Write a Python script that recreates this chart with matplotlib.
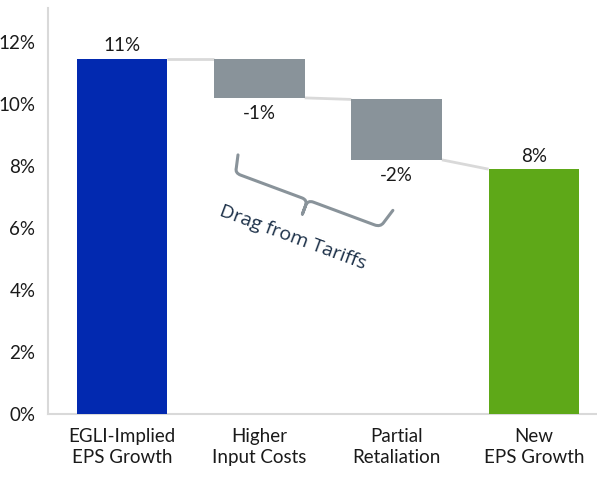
import numpy as np
import matplotlib
matplotlib.use("Agg")
import matplotlib.pyplot as plt
from matplotlib.path import Path
from matplotlib.patches import PathPatch

# data (in %)
categories = ["EGLI-Implied\nEPS Growth", "Higher\nInput Costs", "Partial\nRetaliation", "New\nEPS Growth"]
bar_tops = [11.45, 11.45, 10.15, 7.9]
bar_bottoms = [0.0, 10.2, 8.2, 0.0]
value_labels = ["11%", "-1%", "-2%", "8%"]
yticks = [0, 2, 4, 6, 8, 10, 12]

colors = ["#0229b0", "#89939a", "#89939a", "#5ea818"]
text_col = "#1a1a1a"

plt.rcParams['font.family'] = ['Lato', 'DejaVu Sans']

fig = plt.figure(figsize=(5.97, 4.79), dpi=100)
ax = fig.add_axes([48/597, 1 - 414/479, 1 - 48/597, (414 - 8)/479])

x = np.arange(len(categories))
w = 0.66
heights = [t - b for t, b in zip(bar_tops, bar_bottoms)]
ax.bar(x, heights, bottom=bar_bottoms, width=w, color=colors, zorder=3)

# connectors between bars
for i in range(len(x) - 1):
    y0 = bar_tops[i] if i == 0 else bar_bottoms[i]
    y1 = bar_tops[i + 1]
    ax.plot([x[i] + w/2, x[i + 1] - w/2], [y0, y1], color="#d9d9d9", lw=2, zorder=2,
            solid_capstyle="butt")

# value labels
for i in range(len(x)):
    if bar_bottoms[i] == 0:
        ax.text(x[i], bar_tops[i] + 0.15, value_labels[i], ha="center", va="bottom",
                fontsize=13.5, color=text_col)
    else:
        ax.text(x[i], bar_bottoms[i] - 0.22, value_labels[i], ha="center", va="top",
                fontsize=13.5, color=text_col)

ax.set_xlim(-0.54, 3.46)
ax.set_ylim(0, 13.1)
ax.set_yticks(yticks)
ax.set_yticklabels([f"{v}%" for v in yticks])
ax.set_xticks(x)
ax.set_xticklabels(categories, linespacing=1.3)
ax.tick_params(axis="both", length=0, labelsize=13.5, colors=text_col)
ax.tick_params(axis="x", pad=10)
ax.tick_params(axis="y", pad=9)
for s in ["top", "right"]:
    ax.spines[s].set_visible(False)
for s in ["left", "bottom"]:
    ax.spines[s].set_color("#d9d9d9")
    ax.spines[s].set_linewidth(1.5)

# curly brace "Drag from Tariffs" (drawn in pixel space, rotated)
ang = np.deg2rad(20.4)
L = 155.0
loc = [(-3.5, -18), (-0.5, -5), (0, 0), (6, 0), (L/2 - 6, 0), (L/2, 0), (L/2, 6), (L/2, 15),
       (L/2, 15), (L/2, 6), (L/2, 0), (L/2 + 6, 0), (L - 6, 0), (L, 0), (L + 1.5, -5), (L + 6, -20)]
codes = [Path.MOVETO, Path.LINETO, Path.CURVE3, Path.CURVE3, Path.LINETO, Path.CURVE3, Path.CURVE3, Path.LINETO,
         Path.MOVETO, Path.LINETO, Path.CURVE3, Path.CURVE3, Path.LINETO, Path.CURVE3, Path.CURVE3, Path.LINETO]
loc = np.array(loc)
ux, uy = np.cos(ang), np.sin(ang)
sx = 235 + loc[:, 0]*ux - loc[:, 1]*uy
sy = 173 + loc[:, 0]*uy + loc[:, 1]*ux
verts = np.column_stack([sx/597, 1 - sy/479])
fig.patches.append(PathPatch(Path(verts, codes), transform=fig.transFigure, fill=False,
                             edgecolor="#89939a", lw=2.2, capstyle="round", joinstyle="round"))
fig.text(293/597, 1 - 238/479, "Drag from Tariffs", rotation=-20.4, rotation_mode="anchor",
         ha="center", va="center", fontsize=14, color="#1c3048", family=["Open Sans", "DejaVu Sans"])

fig.savefig("out.png", dpi=100)
